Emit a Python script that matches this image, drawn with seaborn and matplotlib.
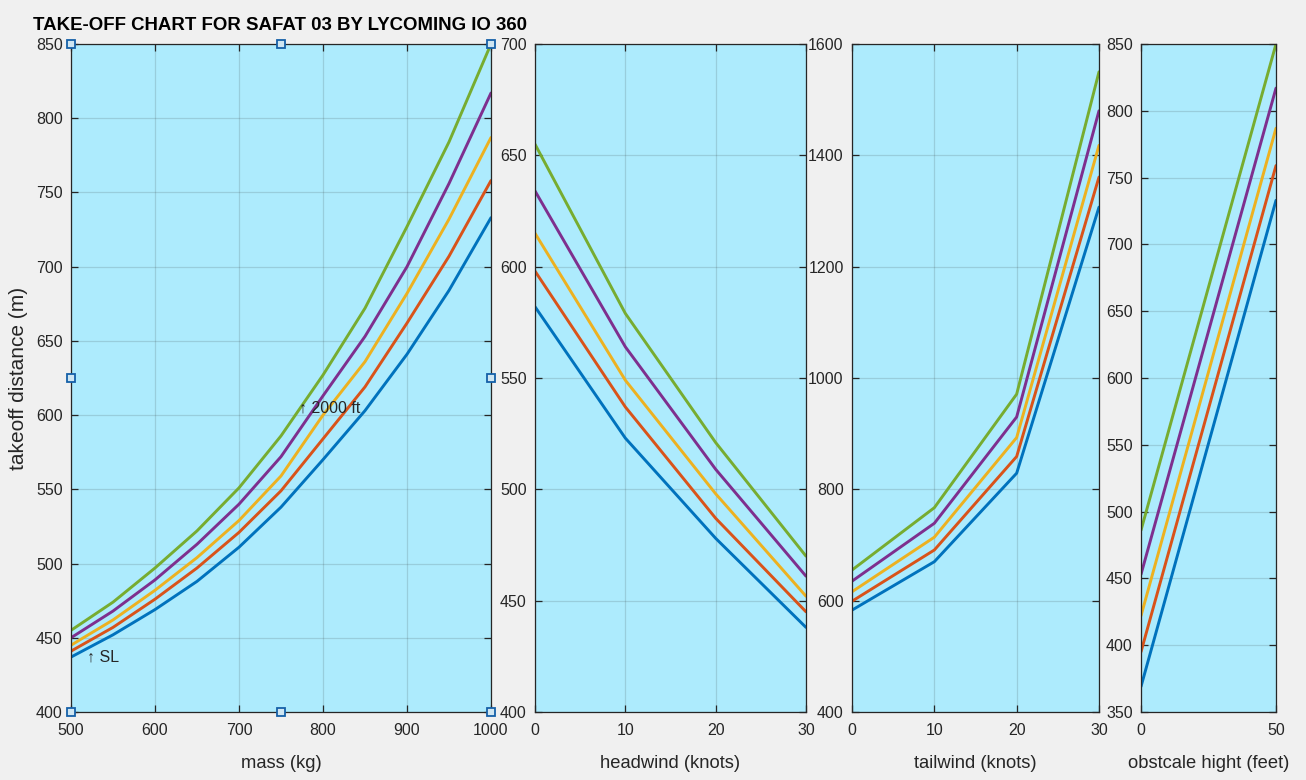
import numpy as np
import pandas as pd
import matplotlib
matplotlib.use("Agg")
import matplotlib.pyplot as plt
import seaborn as sns

# ---------------- data ----------------
altitudes = ["SL", "500 ft", "1000 ft", "1500 ft", "2000 ft"]
colors = ["#0072BD", "#D95319", "#EDB120", "#7E2F8E", "#77AC30"]

mass_kg = [500, 550, 600, 650, 700, 750, 800, 850, 900, 950, 1000]
mass_dist = [
    [437, 452, 469, 488, 511, 538, 570, 603, 641, 684, 733],
    [441, 457, 476, 497, 521, 549, 584, 619, 662, 707, 758],
    [445, 462, 482, 504, 529, 559, 600, 636, 682, 732, 787],
    [450, 468, 489, 513, 540, 572, 613, 653, 700, 756, 817],
    [455, 474, 497, 522, 551, 586, 627, 672, 727, 784, 850],
]

headwind_kt = [0, 10, 20, 30]
headwind_dist = [
    [582, 523, 478, 438],
    [598, 537, 487, 445],
    [615, 549, 498, 452],
    [634, 564, 509, 461],
    [655, 579, 521, 470],
]

tailwind_kt = [0, 10, 20, 30]
tailwind_dist = [
    [583, 670, 829, 1307],
    [599, 691, 859, 1361],
    [616, 714, 893, 1418],
    [635, 739, 930, 1480],
    [655, 767, 971, 1550],
]

obstacle_ft = [0, 50]
obstacle_dist = [
    [369, 733],
    [395, 759],
    [422, 787],
    [453, 817],
    [486, 850],
]

# selection handle markers on first axes (data coords)
handle_x = [500, 750, 1000, 500, 1000, 500, 750, 1000]
handle_y = [850, 850, 850, 625, 625, 400, 400, 400]


def long_df(xvals, series):
    rows = []
    for alt, ys in zip(altitudes, series):
        for x, y in zip(xvals, ys):
            rows.append({"x": x, "dist": y, "alt": alt})
    return pd.DataFrame(rows)


# ---------------- style ----------------
sns.set_style("ticks")
plt.rcParams["font.family"] = ["Liberation Sans", "DejaVu Sans"]
plt.rcParams["font.size"] = 11.5
txt = (0.15, 0.15, 0.15)
plt.rcParams["text.color"] = txt
plt.rcParams["axes.labelcolor"] = txt
plt.rcParams["xtick.color"] = txt
plt.rcParams["ytick.color"] = txt

W, H = 1306, 780
fig = plt.figure(figsize=(W / 100, H / 100), dpi=100, facecolor="#F0F0F0")

panels = [
    (71, 491, mass_kg, mass_dist, [500, 600, 700, 800, 900, 1000],
     (500, 1000), list(range(400, 851, 50)), (400, 850), "mass (kg)"),
    (535, 806, headwind_kt, headwind_dist, [0, 10, 20, 30],
     (0, 30), list(range(400, 701, 50)), (400, 700), "headwind (knots)"),
    (852, 1099, tailwind_kt, tailwind_dist, [0, 10, 20, 30],
     (0, 30), list(range(400, 1601, 200)), (400, 1600), "tailwind (knots)"),
    (1141, 1276, obstacle_ft, obstacle_dist, [0, 50],
     (0, 50), list(range(350, 851, 50)), (350, 850), "obstcale hight (feet)"),
]

top_px, bot_px = 44, 712
axes = []
for (l, r, xs, series, xt, xl, yt, yl, xlab) in panels:
    ax = fig.add_axes([l / W, 1 - bot_px / H, (r - l) / W, (bot_px - top_px) / H])
    ax.set_facecolor("#ADEBFD")
    df = long_df(xs, series)
    sns.lineplot(data=df, x="x", y="dist", hue="alt", hue_order=altitudes,
                 palette=colors, linewidth=2.1, legend=False, ax=ax,
                 estimator=None, sort=False)
    ax.set_xlim(*xl)
    ax.set_ylim(*yl)
    ax.set_xticks(xt)
    ax.set_yticks(yt)
    ax.grid(True, color=(0.15, 0.15, 0.15), alpha=0.15, linewidth=0.9)
    ax.set_axisbelow(True)
    ax.tick_params(direction="in", length=5, width=0.9, top=True, right=True,
                   labelsize=11.5)
    ax.tick_params(axis="y", pad=6)
    ax.tick_params(axis="x", pad=8)
    for s in ax.spines.values():
        s.set_color((0.15, 0.15, 0.15))
        s.set_linewidth(0.9)
    ax.set_xlabel(xlab, fontsize=13.2, labelpad=12)
    ax.set_ylabel("")
    axes.append(ax)

ax1 = axes[0]
ax1.set_ylabel("takeoff distance (m)", fontsize=15)
ax1.yaxis.set_label_coords(-0.102, 0.5)

ax1.text(519, 437, "\u2191 SL", fontsize=11.5, ha="left", va="center")
ax1.text(772, 605, "\u2191 2000 ft", fontsize=11.5, ha="left", va="center")

ax1.plot(handle_x, handle_y, linestyle="none", marker="s", markersize=6,
         markerfacecolor="#CFE6F2", markeredgecolor="#1560A8",
         markeredgewidth=1.3, clip_on=False, zorder=10)

fig.text(280 / W, 1 - 25 / H, "TAKE-OFF CHART FOR SAFAT 03 BY LYCOMING IO 360",
         ha="center", va="center", fontsize=13.4, fontweight="bold", color="black")

fig.savefig("out.png", dpi=100, facecolor=fig.get_facecolor())
